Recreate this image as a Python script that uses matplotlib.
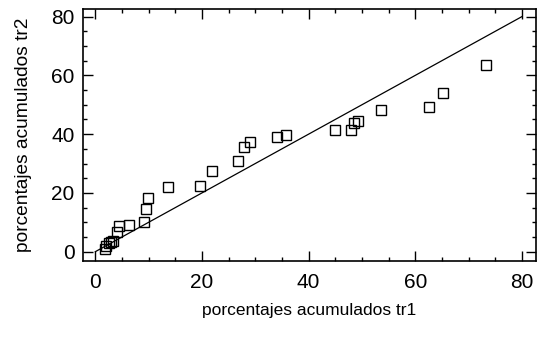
import matplotlib
matplotlib.use("Agg")
from matplotlib import pyplot as plt
from matplotlib.ticker import MultipleLocator

# cumulative percentages
tr1 = [1.8, 2.1, 2.5, 2.9, 3.3, 4.1, 4.4, 6.4, 9.1, 9.6, 9.8, 13.6, 19.6, 21.8,
       26.8, 27.8, 29.0, 34.1, 35.7, 45.0, 47.9, 48.6, 49.3, 53.5, 62.5, 65.2, 73.2]
tr2 = [1.0, 2.0, 2.8, 3.4, 3.8, 6.8, 8.8, 9.2, 10.0, 14.7, 18.3, 22.1, 22.2, 27.4,
       31.0, 35.6, 37.3, 39.2, 39.7, 41.5, 41.5, 43.8, 44.5, 48.2, 49.3, 53.9, 63.7]
diag = [0, 80]

plt.rcParams["font.family"] = ["Liberation Sans", "DejaVu Sans"]

fig = plt.figure(figsize=(5.48, 3.48), dpi=100)
ax = fig.add_axes([0.1515, 0.2514, 0.8261, 0.7219])

ax.plot(diag, diag, color="black", lw=0.9)
ax.plot(tr1, tr2, ls="none", marker="s", ms=6.5, mfc="none", mec="black", mew=1.0)

ax.set_xlim(-2.3, 82.6)
ax.set_ylim(-3.0, 82.5)
ax.xaxis.set_major_locator(MultipleLocator(20))
ax.yaxis.set_major_locator(MultipleLocator(20))
ax.xaxis.set_minor_locator(MultipleLocator(5))
ax.yaxis.set_minor_locator(MultipleLocator(5))
ax.tick_params(which="both", direction="in", top=True, right=True, width=1.0, colors="black")
ax.tick_params(which="major", length=7, labelsize=15)
ax.tick_params(axis="x", which="major", pad=9)
ax.tick_params(axis="y", which="major", pad=6)
ax.tick_params(which="minor", length=3)
for s in ax.spines.values():
    s.set_linewidth(1.2)

ax.set_xlabel("porcentajes acumulados tr1", fontsize=12.5, labelpad=8)
ax.set_ylabel("porcentajes acumulados tr2", fontsize=13.8, labelpad=14)

fig.savefig("out.png", dpi=100)
